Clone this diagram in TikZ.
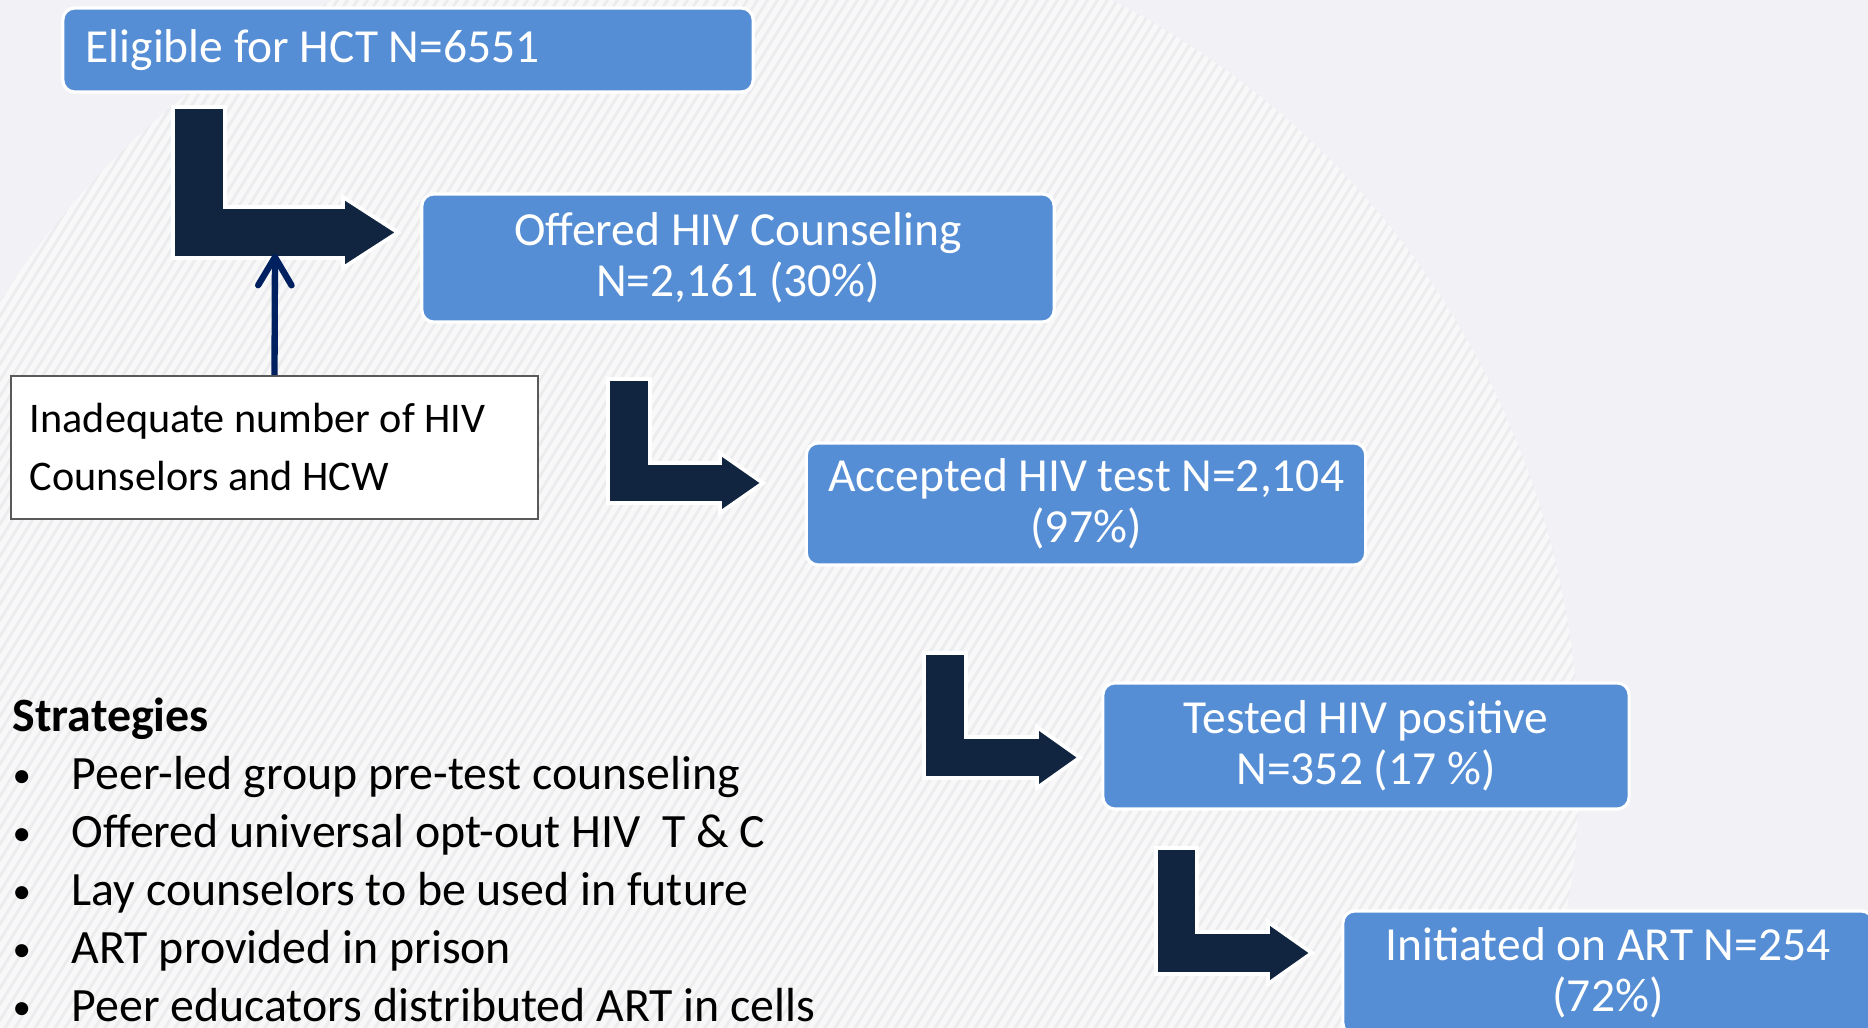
\documentclass[tikz,border=0pt]{standalone}
\usepackage{fontspec}
\setmainfont{Carlito}
\usetikzlibrary{arrows.meta,positioning,calc}
\definecolor{bgrey}{RGB}{242,242,246}
\definecolor{disc}{RGB}{248,248,249}
\definecolor{stripe}{RGB}{236,236,239}
\definecolor{boxblue}{RGB}{85,142,213}
\definecolor{navy}{RGB}{17,37,64}
\definecolor{linknavy}{RGB}{0,32,96}
\tikzset{
  stage/.style={draw=white,line width=0.9pt,fill=boxblue,rounded corners=3.4pt,
    text=white,align=center,font=\fontsize{13.5}{14.5}\selectfont,inner sep=0pt},
  bent/.style={fill=navy,draw=white,line width=1.1pt,line join=miter},
  note/.style={draw=black!65,line width=0.5pt,fill=white,align=flush left,
    font=\fontsize{12}{16.5}\selectfont,inner xsep=0.19cm,inner ysep=0pt},
  strline/.style={anchor=base west,inner sep=0pt,font=\fontsize{13.6}{16.4}\selectfont},
}

\begin{document}
\begin{tikzpicture}[x=0.01cm,y=-0.01cm]

	\useasboundingbox (0,0) rectangle (1868,1028);
	\clip (0,0) rectangle (1868,1028);
	
	% background with striped disc
	\fill[bgrey] (0,0) rectangle (1868,1028);
	\begin{scope}
		\clip (722,764) circle (8.57cm);
		\fill[disc] (722,764) circle (8.57cm);
		\foreach \k in {-800,-790,...,1700}
		\draw[stripe,line width=0.8pt] (\k,1100) -- ({\k+700},-20);
	\end{scope}
	
	% bent arrows between stages
	\foreach \l/\t/\r/\h/\b/\hb/\tp in {173/107/225/207/258/343/398,
		608/379/650/463/503/720/763,
		924/653/966/737/778/1037/1080,
		1156/848/1197/932/974/1268/1312}
	\draw[bent] (\l,\t) -- (\r,\t) -- (\r,\h) -- (\hb,\h) -- (\hb,{\h-10})
	-- (\tp,{(\h+\b)/2}) -- (\hb,{\b+10}) -- (\hb,\b) -- (\l,\b) -- cycle;
	
	% stages
	\node[stage,align=flush left,text width=6.44cm,inner xsep=0.23cm,minimum height=0.84cm]
	(eligible) at (408,50) {Eligible for HCT N=6551};
	
	\node[stage,minimum width=6.32cm,minimum height=1.28cm]
	(offered) at (738,258) {Offered HIV Counseling\\N=2,161 (30\%)};
	
	\node[stage,minimum width=5.59cm,minimum height=1.22cm]
	(accepted) at (1086,504) {Accepted HIV test N=2,104\\(97\%)};
	
	\node[stage,minimum width=5.26cm,minimum height=1.26cm]
	(positive) at (1366,746) {Tested HIV positive\\N=352 (17 \%)};
	
	\node[stage,minimum width=5.30cm,minimum height=1.24cm]
	(initiated) at (1608,973) {Initiated on ART N=254\\(72\%)};
	
	% barrier
	\node[note,text width=4.89cm,minimum height=1.43cm]
	(inadequate) at (274.5,447.5) {Inadequate number of HIV\\Counselors and HCW};
	
	\coordinate (lack) at (275,254);
	\draw[linknavy,line width=1.8pt,-{Straight Barb[length=8pt,width=9.5pt,round]}]
	(inadequate.north) -- (lack);
	
	% strategies
	\node[strline,font=\fontsize{13.6}{16.4}\selectfont\bfseries]
	(strat) at (12,732) {Strategies};
	
	\foreach \txt [count=\i] in {Peer-led group pre-test counseling,
		Offered universal opt-out HIV\ \ T \& C,
		Lay counselors to be used in future,
		ART provided in prison,
		Peer educators distributed ART in cells}
	{
		\node[strline,font=\fontsize{10.5}{12}\selectfont] (bullet\i)
		at (12,{788+57.8*(\i-1)}) {\textbullet};
		\node[strline] (item\i) at (71,{790+57.8*(\i-1)}) {\txt};
	}
	
\end{tikzpicture}
\end{document}
